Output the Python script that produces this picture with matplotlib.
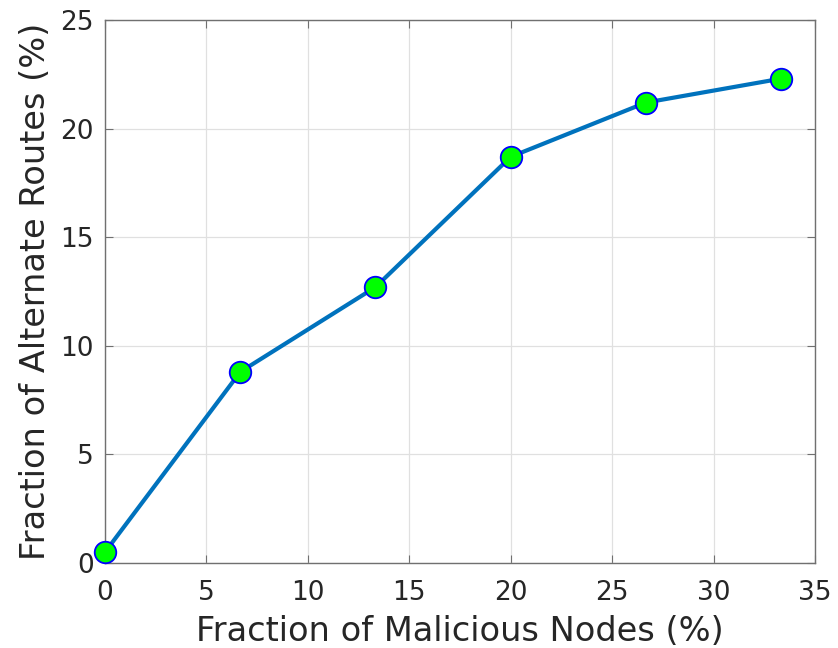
import numpy as np
import matplotlib.pyplot as plt

# fraction of malicious nodes (%) vs fraction of alternate routes (%)
malicious_pct = [0, 6.67, 13.33, 20.0, 26.67, 33.33]
alternate_pct = [0.5, 8.8, 12.7, 18.7, 21.2, 22.3]

x_ticks = [0, 5, 10, 15, 20, 25, 30, 35]
y_ticks = [0, 5, 10, 15, 20, 25]

fig = plt.figure(figsize=(8.38, 6.48), dpi=100)
ax = fig.add_axes([105 / 838, 85 / 648, 710 / 838, 543 / 648])

ax.plot(malicious_pct, alternate_pct, color="#0072BD", linewidth=3,
        marker="o", markersize=15.5, markerfacecolor="#00FF00",
        markeredgecolor="#0000FF", markeredgewidth=1.3, zorder=3,
        clip_on=False)

ax.set_xlim(0, 35)
ax.set_ylim(0, 25)
ax.set_xticks(x_ticks)
ax.set_yticks(y_ticks)
ax.grid(True, color="#e0e0e0", linewidth=0.9)
ax.set_axisbelow(True)

for s in ax.spines.values():
    s.set_color("#707070")
    s.set_linewidth(1.0)
ax.tick_params(direction="in", length=6, labelsize=19, colors="#707070",
               labelcolor="#262626", top=True, right=True)
ax.tick_params(axis="x", pad=12)
ax.tick_params(axis="y", pad=8)
ax.set_xlabel("Fraction of Malicious Nodes (%)", fontsize=24.2, color="#262626", labelpad=7)
ax.set_ylabel("Fraction of Alternate Routes (%)", fontsize=24.2, color="#262626", labelpad=6)

fig.savefig("out.png", dpi=100)
